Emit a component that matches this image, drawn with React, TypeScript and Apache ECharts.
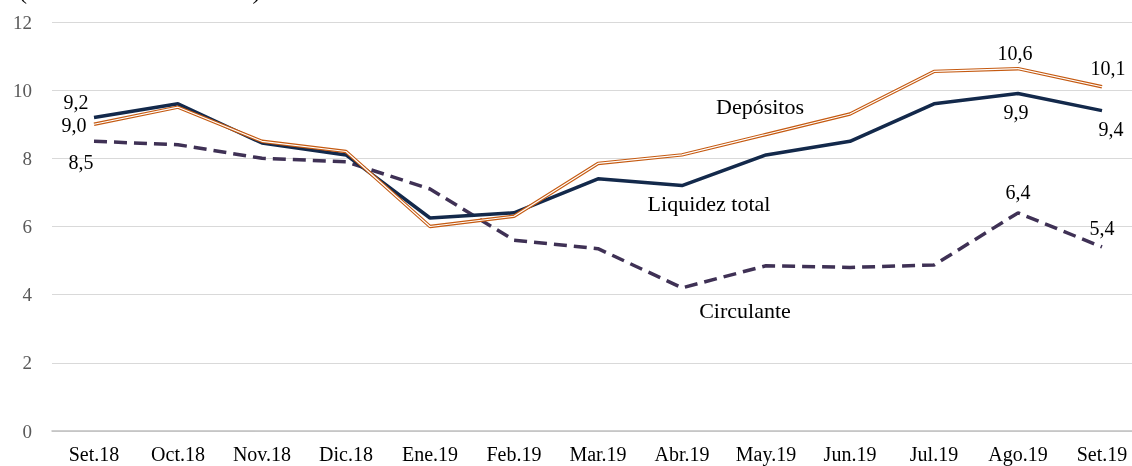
import React, { useEffect, useRef } from "react";
import * as echarts from "echarts";

const categories = ["Set.18", "Oct.18", "Nov.18", "Dic.18", "Ene.19", "Feb.19", "Mar.19", "Abr.19", "May.19", "Jun.19", "Jul.19", "Ago.19", "Set.19"];
const liquidez = [9.2, 9.6, 8.45, 8.1, 6.25, 6.4, 7.4, 7.2, 8.1, 8.5, 9.6, 9.9, 9.4];
const depositos = [9.0, 9.5, 8.5, 8.2, 6.0, 6.3, 7.85, 8.1, 8.7, 9.3, 10.55, 10.63, 10.1];
const circulante = [8.5, 8.4, 8.0, 7.9, 7.1, 5.6, 5.35, 4.2, 4.85, 4.8, 4.87, 6.4, 5.4];
const yTicks = { min: 0, max: 12, interval: 2 };
const titleText = "(Tasa de variación anual)";
const seriesNames = { liq: "Liquidez total", dep: "Depósitos", circ: "Circulante" };

const FONT = "'Liberation Serif', 'Times New Roman', serif";
const fmt = (v: number) => v.toFixed(1).replace(".", ",");

type LabelSpec = { position: string; offset: number[]; distance?: number };

function withLabels(values: number[], specs: Record<number, LabelSpec>) {
  return values.map((v, i) => {
    const s = specs[i];
    if (!s) return v;
    return {
      value: v,
      label: {
        show: true,
        position: s.position,
        offset: s.offset,
        distance: s.distance ?? 5,
        formatter: () => fmt(v),
        fontFamily: FONT,
        fontSize: 20,
        color: "#000",
        opacity: 1,
      },
    };
  });
}

const hiddenSymbol = {
  symbol: "circle",
  symbolSize: 1,
  showSymbol: true,
  itemStyle: { color: "rgba(0,0,0,0)", borderWidth: 0 },
};

export default function App() {
  const ref = useRef<HTMLDivElement>(null);
  useEffect(() => {
    if (!ref.current) return;
    const chart = echarts.init(ref.current, undefined, { renderer: "svg" });
    const n = categories.length;
    chart.setOption({
      animation: false,
      grid: { left: 52, right: 6, top: 22, bottom: 35, containLabel: false },
      xAxis: {
        type: "category",
        data: categories,
        boundaryGap: true,
        axisLine: { lineStyle: { color: "#BFBFBF", width: 1.5 } },
        axisTick: { show: false },
        axisLabel: { color: "#000", fontFamily: FONT, fontSize: 20, margin: 13, interval: 0 },
      },
      yAxis: {
        type: "value",
        min: yTicks.min,
        max: yTicks.max,
        interval: yTicks.interval,
        axisLine: { show: false },
        axisTick: { show: false },
        axisLabel: { color: "#595959", fontFamily: FONT, fontSize: 19, margin: 20 },
        splitLine: { lineStyle: { color: "#D9D9D9", width: 1 } },
      },
      graphic: [
        {
          type: "text",
          left: 19,
          top: -21,
          style: { text: titleText, font: `24px ${FONT}`, fill: "#000" },
        },
        {
          type: "text",
          x: 760,
          y: 106,
          style: { text: seriesNames.dep, font: `22px ${FONT}`, fill: "#000", align: "center", verticalAlign: "middle" },
        },
        {
          type: "text",
          x: 709,
          y: 203,
          style: { text: seriesNames.liq, font: `22px ${FONT}`, fill: "#000", align: "center", verticalAlign: "middle" },
        },
        {
          type: "text",
          x: 745,
          y: 310,
          style: { text: seriesNames.circ, font: `22px ${FONT}`, fill: "#000", align: "center", verticalAlign: "middle" },
        },
      ],
      series: [
        {
          name: seriesNames.circ,
          type: "line",
          ...hiddenSymbol,
          data: withLabels(circulante, {
            0: { position: "bottom", offset: [-13, 5] },
            [n - 2]: { position: "top", offset: [0, -5] },
            [n - 1]: { position: "top", offset: [0, -3] },
          }),
          lineStyle: { color: "#3F3155", width: 3.5, type: [13, 7], cap: "butt" },
          z: 2,
        },
        {
          name: seriesNames.liq,
          type: "line",
          ...hiddenSymbol,
          data: withLabels(liquidez, {
            0: { position: "top", offset: [-18, 0] },
            [n - 2]: { position: "bottom", offset: [-2, 3] },
            [n - 1]: { position: "bottom", offset: [9, 3] },
          }),
          lineStyle: { color: "#13294B", width: 3.5 },
          z: 3,
        },
        {
          name: seriesNames.dep,
          type: "line",
          ...hiddenSymbol,
          data: withLabels(depositos, {
            0: { position: "left", offset: [0, 1], distance: 7 },
            [n - 2]: { position: "top", offset: [-3, 0] },
            [n - 1]: { position: "top", offset: [6, -3] },
          }),
          lineStyle: { color: "#C55A11", width: 3.4 },
          z: 4,
        },
        {
          name: seriesNames.dep + " (interior)",
          type: "line",
          data: depositos,
          symbol: "none",
          lineStyle: { color: "#FFFFFF", width: 1.2 },
          z: 5,
          silent: true,
        },
      ],
    });
    return () => chart.dispose();
  }, []);
  return (
    <div style={{ position: "fixed", left: 0, top: 0, width: 1132, height: 466, overflow: "hidden" }}>
      <div ref={ref} style={{ width: 1150, height: 466 }} />
    </div>
  );
}
